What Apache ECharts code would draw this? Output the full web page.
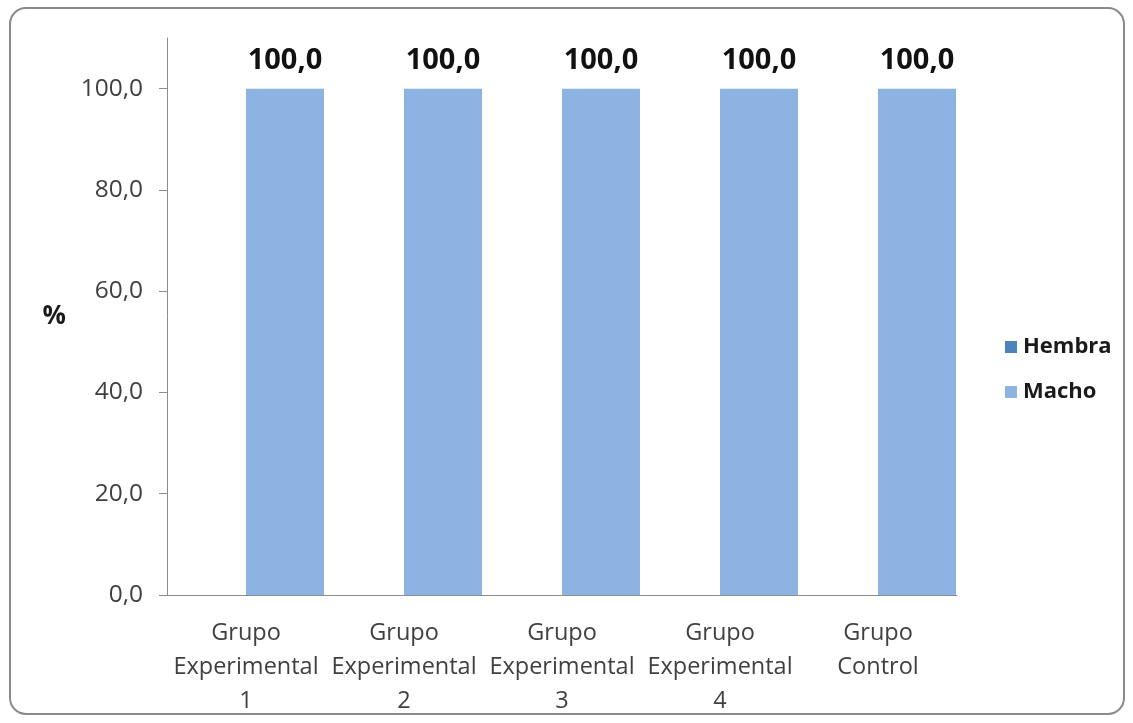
<!DOCTYPE html>
<html>
<head>
<meta charset="utf-8">
<script src="https://cdn.jsdelivr.net/npm/echarts@6/dist/echarts.min.js"></script>
<style>
  html, body { margin: 0; padding: 0; background: #ffffff; }
  #chart { width: 1133px; height: 723px; }
</style>
</head>
<body>
<div id="chart"></div>
<script>
// Grupos del estudio y porcentaje por sexo
const categories = [
  'Grupo\nExperimental\n1',
  'Grupo\nExperimental\n2',
  'Grupo\nExperimental\n3',
  'Grupo\nExperimental\n4',
  'Grupo\nControl'
];
const hembra = [0, 0, 0, 0, 0];
const macho = [100, 100, 100, 100, 100];
const yTicks = [0, 20, 40, 60, 80, 100];

const FONT = '"Open Sans", "Noto Sans", sans-serif';
const fmt = v => Number(v).toFixed(1).replace('.', ',');

const chart = echarts.init(document.getElementById('chart'), null, { renderer: 'canvas' });

chart.setOption({
  animation: false,
  backgroundColor: '#ffffff',
  textStyle: { fontFamily: FONT },
  graphic: [{
    type: 'rect',
    shape: { x: 10, y: 8, width: 1114, height: 706, r: 16 },
    style: { fill: 'none', stroke: '#8a8a8a', lineWidth: 2 },
    silent: true
  }],
  grid: { left: 167, right: 176, top: 38, bottom: 128, containLabel: false },
  legend: {
    orient: 'vertical',
    left: 1000,
    top: 331,
    itemWidth: 12,
    itemHeight: 12,
    itemGap: 23,
    icon: 'rect',
    textStyle: { fontFamily: FONT, fontSize: 22, fontWeight: 'bold', color: '#1a1a1a', padding: [0, 0, 0, 1] },
    data: ['Hembra', 'Macho']
  },
  xAxis: {
    type: 'category',
    data: categories,
    axisLine: { show: true, lineStyle: { color: '#8c8c8c', width: 1 } },
    axisTick: { show: false },
    axisLabel: {
      interval: 0,
      margin: 21,
      fontFamily: FONT,
      fontSize: 23.5,
      lineHeight: 34,
      color: '#404040'
    },
    splitLine: { show: false }
  },
  yAxis: {
    type: 'value',
    min: 0,
    max: 110,
    interval: 10,
    name: '%',
    nameLocation: 'middle',
    nameRotate: 0,
    nameGap: 101,
    nameTextStyle: { fontFamily: FONT, fontSize: 26, fontWeight: 'bold', color: '#1a1a1a', padding: [12, 0, 0, 0] },
    axisLine: { show: true, lineStyle: { color: '#8c8c8c', width: 1 } },
    axisTick: {
      show: true, inside: false, length: 8,
      customValues: yTicks,
      lineStyle: { color: '#8c8c8c' }
    },
    axisLabel: {
      customValues: yTicks,
      margin: 24,
      fontFamily: FONT,
      fontSize: 24.5,
      color: '#404040',
      formatter: fmt
    },
    splitLine: { show: false }
  },
  series: [
    {
      name: 'Hembra',
      type: 'bar',
      data: hembra,
      barWidth: 78,
      barGap: '0%',
      itemStyle: { color: '#4F81BD' }
    },
    {
      name: 'Macho',
      type: 'bar',
      data: macho,
      barWidth: 78,
      barGap: '0%',
      itemStyle: { color: '#8DB3E2' },
      label: {
        show: true,
        position: 'top',
        distance: 13,
        fontFamily: FONT,
        fontSize: 29,
        fontWeight: 'bold',
        color: '#111111',
        formatter: p => fmt(p.value)
      }
    }
  ]
});
</script>
</body>
</html>
